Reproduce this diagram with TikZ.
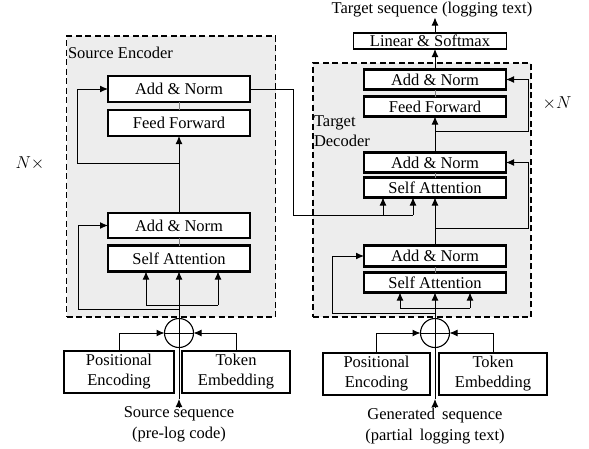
\documentclass[tikz,border=0pt]{standalone}
\usepackage{fontspec}
\setmainfont{Liberation Serif}
\usetikzlibrary{arrows.meta}
\definecolor{regfill}{RGB}{237,237,237}
\begin{document}
\begin{tikzpicture}[x=1pt,y=-1pt,
  every node/.style={font=\fontsize{16.5}{20}\selectfont, inner sep=0pt, outer sep=0pt},
  blk/.style={draw, line width=2.4pt, fill=white, minimum width=142pt, minimum height=#1},
  emb/.style={draw, line width=2.4pt, fill=white, minimum height=42pt, align=center},
  region/.style={draw, dashed, dash pattern=on 6pt off 3.5pt, line width=1.3pt, fill=regfill},
  plus/.style={draw, circle, line width=1.1pt, minimum size=29pt},
  conn/.style={line width=1pt},
  arr/.style={line width=1pt, -{Latex[length=8pt,width=7pt]}},
  joint/.style={line width=0.5pt, gray},
  lbl/.style={align=center, font=\fontsize{16.5}{21}\selectfont}
]
\useasboundingbox (0,0) rectangle (589,448);

% ---------------- Encoder ----------------
\node[region, minimum width=209pt, minimum height=281pt] (encreg) at (171,176.5) {};
\node[anchor=west] (enclab) at (68,53) {Source Encoder};
\node[blk=26pt] (eAN2) at (179,89) {Add \& Norm};
\node[blk=26pt] (eFF) at (179,123) {Feed Forward};
\node[blk=25pt] (eAN1) at (179,225.5) {Add \& Norm};
\node[blk=26pt] (eSA) at (179,258.5) {Self Attention};
\node[plus] (ec) at (179,333) {};
\draw[conn] (ec.north) -- (ec.south) (ec.west) -- (ec.east);
\node[emb, minimum width=110pt] (ePE) at (119,372) {Positional\\Encoding};
\node[emb, minimum width=108pt] (eTE) at (236,372) {Token\\Embedding};
\node[lbl, anchor=north] (esrc) at (179,407) {Source sequence\\(pre-log code)};
\coordinate (etip) at (179,399);

\draw[joint] (eFF.north) -- (eAN2.south);
\draw[joint] (eSA.north) -- (eAN1.south);
\draw[arr] (esrc.north) -- (etip);
\draw[conn] (etip) -- (ec.south);
\draw[arr] (ePE.north) |- (ec.west);
\draw[arr] (eTE.north) |- (ec.east);
\draw[arr] (ec.north) -- (eSA.south);
\coordinate (ebl) at (146,305);
\coordinate (ebr) at (218,305);
\draw[conn] (ebl) -- (ebr);
\draw[arr] (ebl) -- (ebl |- eSA.south);
\draw[arr] (ebr) -- (ebr |- eSA.south);
\coordinate (eloop) at (78,309);
\draw[arr] (ec.north |- eloop) -- (eloop) |- (eAN1.west);
\draw[arr] (eAN1.north) -- (eFF.south);
\coordinate (ebr2) at (179,163);
\draw[arr] (ebr2) -- ++(-102,0) |- (eAN2.west);

% ---------------- Decoder ----------------
\node[region, minimum width=218pt, minimum height=254pt] (decreg) at (422,190) {};
\node[anchor=west, align=left] (declab) at (314,131) {Target\\Decoder};
\node[blk=20pt] (dAN3) at (435,79.5) {Add \& Norm};
\node[blk=20pt] (dFF) at (435,106.5) {Feed Forward};
\node[blk=20pt] (dAN2) at (435,162.5) {Add \& Norm};
\node[blk=20pt] (dSA2) at (435,187.5) {Self Attention};
\node[blk=21pt] (dAN1) at (435,256) {Add \& Norm};
\node[blk=20pt] (dSA1) at (435,282.5) {Self Attention};
\node[draw, line width=1.2pt, fill=white, minimum width=153pt, minimum height=16pt] (lin) at (430,41) {Linear \& Softmax};
\node (tgt) at (432,10) {Target sequence (logging text)};
\node[plus] (dc) at (435,333) {};
\draw[conn] (dc.north) -- (dc.south) (dc.west) -- (dc.east);
\node[emb, minimum width=107pt] (dPE) at (376.5,374) {Positional\\Encoding};
\node[emb, minimum width=108pt] (dTE) at (493,374) {Token\\Embedding};
\node[lbl, anchor=north] (dsrc) at (435,408) {Generated\, sequence\\(partial\, logging text)};
\coordinate (dtip) at (435,399);

\draw[joint] (dFF.north) -- (dAN3.south);
\draw[joint] (dSA2.north) -- (dAN2.south);
\draw[joint] (dSA1.north) -- (dAN1.south);
\draw[arr] (dsrc.north) -- (dtip);
\draw[conn] (dtip) -- (dc.south);
\draw[arr] (dPE.north) |- (dc.west);
\draw[arr] (dTE.north) |- (dc.east);
\draw[arr] (dc.north) -- (dSA1.south);
\coordinate (dbl) at (400,308);
\coordinate (dbr) at (470,308);
\draw[conn] (dbl) -- (dbr);
\draw[arr] (dbl) -- (dbl |- dSA1.south);
\draw[arr] (dbr) -- (dbr |- dSA1.south);
\coordinate (dloop) at (332,313);
\draw[arr] (dc.north |- dloop) -- (dloop) |- (dAN1.west);
\draw[arr] (dAN1.north) -- (dSA2.south);
\coordinate (dr2) at (435,228);
\draw[arr] (dr2) -- ++(93,0) |- (dAN2.east);
\draw[arr] (dAN2.north) -- (dFF.south);
\coordinate (dr1) at (435,131);
\draw[arr] (dr1) -- ++(93,0) |- (dAN3.east);
\draw[arr] (dAN3.north) -- (dAN3.north |- lin.south);
\draw[arr] (dAN3.north |- lin.north) -- (dAN3.north |- tgt.south);

% encoder output to decoder
\coordinate (ej) at (293,215);
\coordinate (dca) at (383,215);
\coordinate (dcb) at (413,215);
\draw[conn] (eAN2.east) -| (ej) -- (dcb);
\draw[arr] (dca) -- (dca |- dSA2.south);
\draw[arr] (dcb) -- (dcb |- dSA2.south);

% repeat labels
\node (nl) at (30,163) {$N\times$};
\node (nr) at (557,103) {$\times N$};
\end{tikzpicture}
\end{document}
